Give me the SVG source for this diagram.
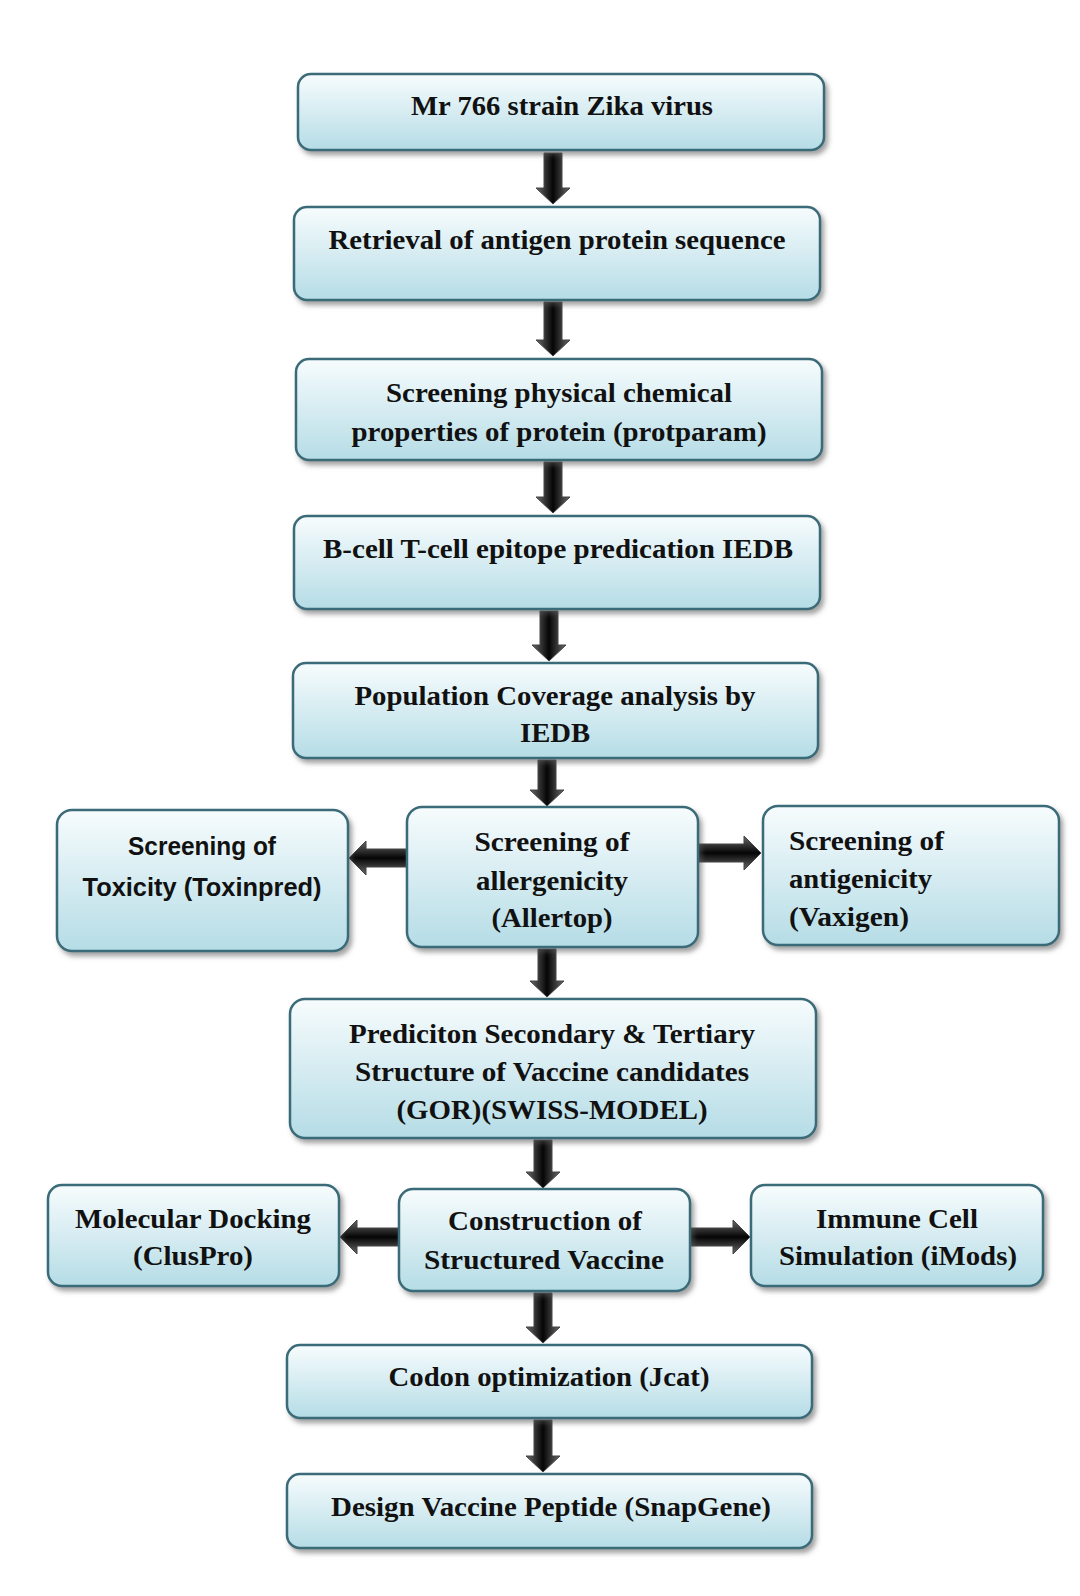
<svg xmlns="http://www.w3.org/2000/svg" width="1080" height="1596" viewBox="0 0 1080 1596">
<style>
.box{fill:url(#bg);stroke:#3b6b78;stroke-width:2.5;filter:url(#sh)}
.t{font-family:"Liberation Serif","Times New Roman",serif;font-weight:bold;font-size:27px;fill:#111;text-anchor:middle}
.s{font-family:"Liberation Sans Narrow","Liberation Sans",Arial,sans-serif;font-weight:bold;font-size:26px;fill:#111;text-anchor:middle}
.tl{text-anchor:start}
.av{fill:url(#ag);stroke:#444;stroke-width:1}
.ah{fill:url(#agh);stroke:#444;stroke-width:1}
</style>
<defs>
<linearGradient id="bg" x1="0" y1="0" x2="0" y2="1">
<stop offset="0" stop-color="#f7fcfd"/>
<stop offset="1" stop-color="#b5dce6"/>
</linearGradient>
<linearGradient id="ag" x1="0" y1="0" x2="1" y2="0">
<stop offset="0" stop-color="#6a6a6a"/>
<stop offset="0.5" stop-color="#050505"/>
<stop offset="1" stop-color="#6a6a6a"/>
</linearGradient>
<linearGradient id="agh" x1="0" y1="0" x2="0" y2="1">
<stop offset="0" stop-color="#6a6a6a"/>
<stop offset="0.5" stop-color="#050505"/>
<stop offset="1" stop-color="#6a6a6a"/>
</linearGradient>
<filter id="sh" x="-5%" y="-10%" width="115%" height="130%">
<feDropShadow dx="3" dy="4" stdDeviation="2.5" flood-color="#555" flood-opacity="0.55"/>
</filter>
</defs>
<rect width="1080" height="1596" fill="#fff"/>

<g id="connectors">
<path class="av" d="M544,153 H562 V188 H570 L553,204 L536,188 H544 Z"/>
<path class="av" d="M544,302 H562 V340 H570 L553,356 L536,340 H544 Z"/>
<path class="av" d="M544,462 H562 V497 H570 L553,513 L536,497 H544 Z"/>
<path class="av" d="M540,611 H558 V645 H566 L549,661 L532,645 H540 Z"/>
<path class="av" d="M538,760 H556 V790 H564 L547,806 L530,790 H538 Z"/>
<path class="ah" d="M407,849 V867 H366 V875 L349,858 L366,841 V849 Z"/>
<path class="ah" d="M698,844 V862 H744 V870 L761,853 L744,836 V844 Z"/>
<path class="av" d="M538,949 H556 V981 H564 L547,997 L530,981 H538 Z"/>
<path class="av" d="M534,1140 H552 V1172 H560 L543,1188 L526,1172 H534 Z"/>
<path class="ah" d="M399,1228 V1246 H357 V1254 L340,1237 L357,1220 V1228 Z"/>
<path class="ah" d="M690,1228 V1246 H733 V1254 L750,1237 L733,1220 V1228 Z"/>
<path class="av" d="M534,1293 H552 V1327 H560 L543,1343 L526,1327 H534 Z"/>
<path class="av" d="M534,1420 H552 V1456 H560 L543,1472 L526,1456 H534 Z"/>
</g>

<g id="n1"><rect class="box" x="298" y="74" width="526" height="76" rx="13"/>
<text class="t" x="562" y="115" textLength="302" lengthAdjust="spacingAndGlyphs">Mr 766 strain Zika virus</text></g>

<g id="n2"><rect class="box" x="294" y="207" width="526" height="93" rx="13"/>
<text class="t" x="557" y="249" textLength="457" lengthAdjust="spacingAndGlyphs">Retrieval of antigen protein sequence</text></g>

<g id="n3"><rect class="box" x="296" y="359" width="526" height="101" rx="13"/>
<text class="t" x="559" y="402" textLength="346" lengthAdjust="spacingAndGlyphs">Screening physical chemical</text>
<text class="t" x="559" y="441" textLength="415" lengthAdjust="spacingAndGlyphs">properties of protein (protparam)</text></g>

<g id="n4"><rect class="box" x="294" y="516" width="526" height="93" rx="13"/>
<text class="t" x="558" y="558" textLength="470" lengthAdjust="spacingAndGlyphs">B-cell T-cell epitope predication IEDB</text></g>

<g id="n5"><rect class="box" x="293" y="663" width="525" height="95" rx="13"/>
<text class="t" x="555" y="705" textLength="401" lengthAdjust="spacingAndGlyphs">Population Coverage analysis by</text>
<text class="t" x="555" y="742" textLength="70" lengthAdjust="spacingAndGlyphs">IEDB</text></g>

<g id="n6"><rect class="box" x="407" y="807" width="291" height="140" rx="15"/>
<text class="t" x="552" y="851" textLength="155" lengthAdjust="spacingAndGlyphs">Screening of</text>
<text class="t" x="552" y="890" textLength="152" lengthAdjust="spacingAndGlyphs">allergenicity</text>
<text class="t" x="552" y="927" textLength="121" lengthAdjust="spacingAndGlyphs">(Allertop)</text></g>

<g id="n6l"><rect class="box" x="57" y="810" width="291" height="141" rx="15"/>
<text class="s" x="202" y="855" textLength="148" lengthAdjust="spacingAndGlyphs">Screening of</text>
<text class="s" x="202" y="896" textLength="239" lengthAdjust="spacingAndGlyphs">Toxicity (Toxinpred)</text></g>

<g id="n6r"><rect class="box" x="763" y="806" width="296" height="139" rx="15"/>
<text class="t tl" x="789" y="850" textLength="155" lengthAdjust="spacingAndGlyphs">Screening of</text>
<text class="t tl" x="789" y="888" textLength="143" lengthAdjust="spacingAndGlyphs">antigenicity</text>
<text class="t tl" x="789" y="926" textLength="120" lengthAdjust="spacingAndGlyphs">(Vaxigen)</text></g>

<g id="n7"><rect class="box" x="290" y="999" width="526" height="139" rx="15"/>
<text class="t" x="552" y="1043" textLength="406" lengthAdjust="spacingAndGlyphs">Prediciton Secondary &amp; Tertiary</text>
<text class="t" x="552" y="1081" textLength="394" lengthAdjust="spacingAndGlyphs">Structure of Vaccine candidates</text>
<text class="t" x="552" y="1119" textLength="311" lengthAdjust="spacingAndGlyphs">(GOR)(SWISS-MODEL)</text></g>

<g id="n8"><rect class="box" x="399" y="1189" width="291" height="102" rx="14"/>
<text class="t" x="545" y="1230" textLength="194" lengthAdjust="spacingAndGlyphs">Construction of</text>
<text class="t" x="544" y="1269" textLength="240" lengthAdjust="spacingAndGlyphs">Structured Vaccine</text></g>

<g id="n8l"><rect class="box" x="48" y="1185" width="291" height="101" rx="14"/>
<text class="t" x="193" y="1228" textLength="236" lengthAdjust="spacingAndGlyphs">Molecular Docking</text>
<text class="t" x="193" y="1265" textLength="120" lengthAdjust="spacingAndGlyphs">(ClusPro)</text></g>

<g id="n8r"><rect class="box" x="751" y="1185" width="292" height="101" rx="14"/>
<text class="t" x="897" y="1228" textLength="162" lengthAdjust="spacingAndGlyphs">Immune Cell</text>
<text class="t" x="898" y="1265" textLength="238" lengthAdjust="spacingAndGlyphs">Simulation (iMods)</text></g>

<g id="n9"><rect class="box" x="287" y="1345" width="525" height="73" rx="13"/>
<text class="t" x="549" y="1386" textLength="321" lengthAdjust="spacingAndGlyphs">Codon optimization (Jcat)</text></g>

<g id="n10"><rect class="box" x="287" y="1474" width="525" height="74" rx="13"/>
<text class="t" x="551" y="1516" textLength="440" lengthAdjust="spacingAndGlyphs">Design Vaccine Peptide (SnapGene)</text></g>
</svg>
